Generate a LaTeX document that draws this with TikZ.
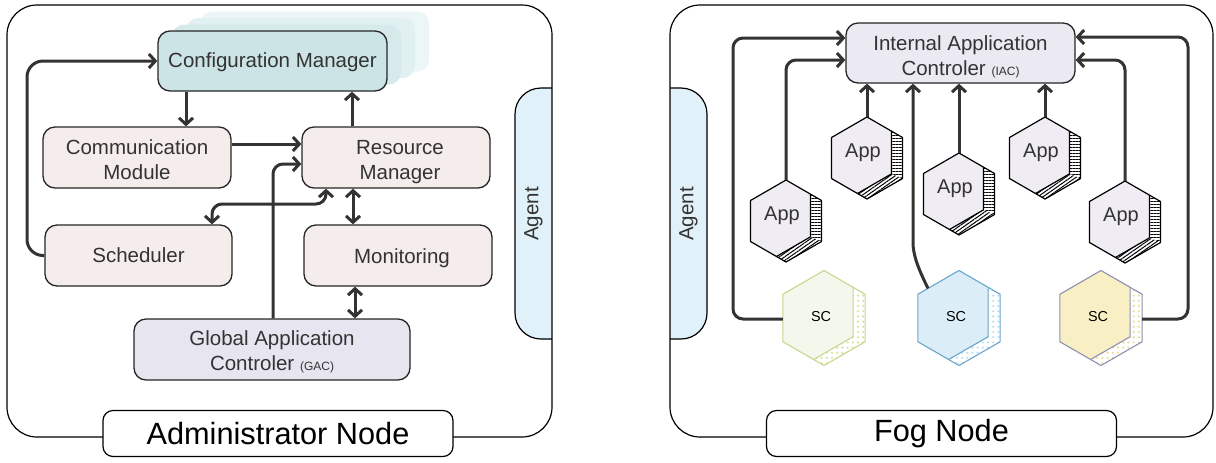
\documentclass[tikz,border=0pt]{standalone}
\usepackage{fontspec}
\setmainfont{Liberation Sans}
\usetikzlibrary{arrows.meta,patterns.meta}
\definecolor{ink}{HTML}{333333}
\definecolor{cfgfill}{HTML}{CCE4E5}
\definecolor{cfgA}{HTML}{D6EAEB}
\definecolor{cfgB}{HTML}{E1F0F0}
\definecolor{cfgC}{HTML}{EDF6F6}
\definecolor{boxfill}{HTML}{F5EDEB}
\definecolor{gacfill}{HTML}{E7E6F0}
\definecolor{iacfill}{HTML}{EBE9F2}
\definecolor{appfill}{HTML}{F0ECF3}
\definecolor{agentfill}{HTML}{E1F1F9}
\definecolor{scgS}{HTML}{C5D98D}
\definecolor{scgF}{HTML}{F3F7EC}
\definecolor{scgD}{HTML}{D6E39A}
\definecolor{scbS}{HTML}{6AA6CB}
\definecolor{scbF}{HTML}{DBEEF7}
\definecolor{scbD}{HTML}{BCDDF0}
\definecolor{scyS}{HTML}{8F8FB0}
\definecolor{scyF}{HTML}{F8F0C4}
\definecolor{scyD}{HTML}{EEDD90}
\newcommand\tdn[1]{\rule{0pt}{#1}}
\tikzset{
  apptext/.style={inner sep=0pt, text=ink, font=\fontsize{10}{12}\selectfont},
  sctext/.style={inner sep=0pt, text=black, font=\fontsize{7.2}{8.5}\selectfont},
  pics/apphex/.style={code={
    \path[fill=white, postaction={pattern={Lines[angle=0,distance=1.5pt,line width=0.5pt]}}]
      (24.51,-26.85) -- (35.51,-20.5) -- (35.51,20.5) -- (24.51,15.85) -- cycle;
    \path[fill=white, postaction={pattern={Lines[angle=35,distance=1.5pt,line width=0.5pt]}}]
      (24.51,15.85) -- (35.51,20.5) -- (0,41) -- (-9.53,35.5) -- cycle;
    \path[fill=appfill] (0,-41) -- (24.51,-26.85) -- (24.51,15.85) -- (-9.53,35.5)
      -- (-35.51,20.5) -- (-35.51,-20.5) -- cycle;
    \draw[line width=0.6pt, line join=round] (0,-41) -- (35.51,-20.5) -- (35.51,20.5)
      -- (0,41) -- (-35.51,20.5) -- (-35.51,-20.5) -- cycle;
    \draw[line width=0.6pt, line join=round] (24.51,-26.85) -- (24.51,15.85) -- (-9.53,35.5);
    \coordinate (-top) at (0,-41);
    \node[apptext] (-t) at (-4,-5) {App};
  }},
  pics/schex/.style n args={3}{code={
    \path[fill=white, postaction={pattern={Dots[distance=2.6pt,radius=0.6pt]},pattern color=#3}]
      (29.14,-30.68) -- (41.14,-23.75) -- (41.14,23.75) -- (0,47.5) -- (-10.39,41.5)
      -- (29.14,18.68) -- cycle;
    \path[fill=#2] (0,-47.5) -- (29.14,-30.68) -- (29.14,18.68) -- (-10.39,41.5)
      -- (-41.14,23.75) -- (-41.14,-23.75) -- cycle;
    \draw[draw=#1, line width=0.55pt, line join=round] (0,-47.5) -- (41.14,-23.75) -- (41.14,23.75)
      -- (0,47.5) -- (-41.14,23.75) -- (-41.14,-23.75) -- cycle;
    \draw[draw=#1, line width=0.55pt, line join=round] (29.14,-30.68) -- (29.14,18.68) -- (-10.39,41.5);
    \coordinate (-w) at (-41.14,1);
    \coordinate (-e) at (41.14,1);
    \coordinate (-ul) at (-31,-29.6);
    \node[sctext] (-t) at (-3,-1) {SC};
  }}
}
\begin{document}
\begin{tikzpicture}[x=0.5pt,y=-0.5pt,
  box/.style={draw=black!85, line width=0.65pt, rounded corners=6pt, inner sep=0pt,
    align=center, text=ink, font=\fontsize{10.25}{12.5}\selectfont},
  titlebox/.style={draw=black, line width=0.6pt, rounded corners=5pt, fill=white, inner sep=0pt,
    text=black, font=\fontsize{15.35}{18}\selectfont, minimum width=175pt, minimum height=23pt},
  frame/.style={draw=black, line width=0.6pt, rounded corners=15pt},
  agentshape/.style={draw=black, line width=0.6pt, fill=agentfill, rounded corners=13pt},
  agenttext/.style={rotate=90, inner sep=0pt, text=ink, font=\fontsize{10.25}{12.5}\selectfont},
  conn/.style={draw=ink, line width=1.5pt, rounded corners=5pt, -{Straight Barb[length=3.2pt,width=7pt]}},
  bconn/.style={draw=ink, line width=1.5pt, {Straight Barb[length=3.2pt,width=7pt]}-{Straight Barb[length=3.2pt,width=7pt]}}
]
\useasboundingbox[fill=white] (0,0) rectangle (1216,462);

% ---------------- Administrator node ----------------
\path[agentshape] (552,88) -- (515,88) -- (515,339) -- (552,339);
\draw[frame] (7,5) rectangle (552,437);
\node[agenttext] (agentL) at (533.5,214) {Agent};

% configuration manager stacked shadows
\fill[cfgC, rounded corners=6pt] (200,11.5) rectangle (429,71.5);
\fill[cfgB, rounded corners=6pt] (186,18) rectangle (415,78);
\fill[cfgA, rounded corners=6pt] (172,24.5) rectangle (401,84.5);
\node[box, fill=cfgfill, minimum width=114.5pt, minimum height=30pt] (cfg) at (272.5,61) {\tdn{8.6pt}Configuration Manager};

\node[box, fill=boxfill, minimum width=94pt, minimum height=30.5pt] (comm) at (137,157.5) {\tdn{9.6pt}Communication\\Module};
\node[box, fill=boxfill, minimum width=94pt, minimum height=30.5pt] (res) at (396,157.5) {\tdn{11.6pt}\hspace*{4pt}Resource\\\hspace*{4pt}Manager};
\node[box, fill=boxfill, minimum width=93.5pt, minimum height=30.5pt] (sched) at (138.5,255.5) {Scheduler};
\node[box, fill=boxfill, minimum width=94pt, minimum height=30.5pt] (mon) at (398,255.5) {\tdn{10.6pt}\hspace*{4pt}Monitoring};
\node[box, fill=gacfill, minimum width=138pt, minimum height=30.5pt] (gac) at (272,349.5) {\tdn{9.6pt}Global Application\\Controler {\fontsize{6}{7}\selectfont (GAC)}};

\node[titlebox] (titleL) at (278,433.5) {Administrator Node};

\draw[conn] (186,0 |- cfg.south) -- (186,0 |- comm.north);
\draw[conn] (352,0 |- res.north) -- (352,0 |- cfg.south);
\draw[conn] (comm.east |- 0,144) -- (res.west |- 0,144);
\draw[conn] (273,0 |- gac.north) |- (res.west |- 0,164);
\draw[bconn, rounded corners=5pt] (212,0 |- sched.north) |- (326,204) -- (326,0 |- res.south);
\draw[bconn] (353,0 |- res.south) -- (353,0 |- mon.north);
\draw[bconn] (355,0 |- mon.south) -- (355,0 |- gac.north);
\draw[conn, rounded corners=8pt] (sched.west) -| (27,61) -- (cfg.west |- 0,61);

% ---------------- Fog node ----------------
\path[agentshape] (670,88) -- (707,88) -- (707,339) -- (670,339);
\draw[frame] (670,5) rectangle (1213,437);
\node[agenttext] (agentR) at (688.5,214) {Agent};

\node[box, fill=iacfill, minimum width=114.5pt, minimum height=30pt] (iac) at (960.5,53) {\tdn{11.3pt}Internal Application\\Controler {\fontsize{6}{7}\selectfont (IAC)}};

\pic (appA) at (786,221) {apphex};
\pic (appB) at (867,158) {apphex};
\pic (appC) at (959,194) {apphex};
\pic (appD) at (1045,158) {apphex};
\pic (appE) at (1125,222) {apphex};

\pic (sc1) at (824,318) {schex={scgS}{scgF}{scgD}};
\pic (sc2) at (959,318) {schex={scbS}{scbF}{scbD}};
\pic (sc3) at (1101,318) {schex={scyS}{scyF}{scyD}};

\node[titlebox] (titleR) at (941.5,433.5) {Fog Node};

\draw[conn] (sc1-w) -| (733,38) -- (iac.west |- 0,38);
\draw[conn] (appA-top) |- (iac.west |- 0,60);
\draw[conn] (appB-top) -- (appB-top |- iac.south);
\draw[conn] (appC-top) -- (appC-top |- iac.south);
\draw[conn] (appD-top) -- (appD-top |- iac.south);
\draw[conn] (appE-top) |- (iac.east |- 0,60);
\draw[conn] (sc3-e) -| (1188,37) -- (iac.east |- 0,37);
\draw[conn] (sc2-ul) .. controls (918,268) and (913,255) .. (913,232) -- (913,0 |- iac.south);
\end{tikzpicture}
\end{document}
